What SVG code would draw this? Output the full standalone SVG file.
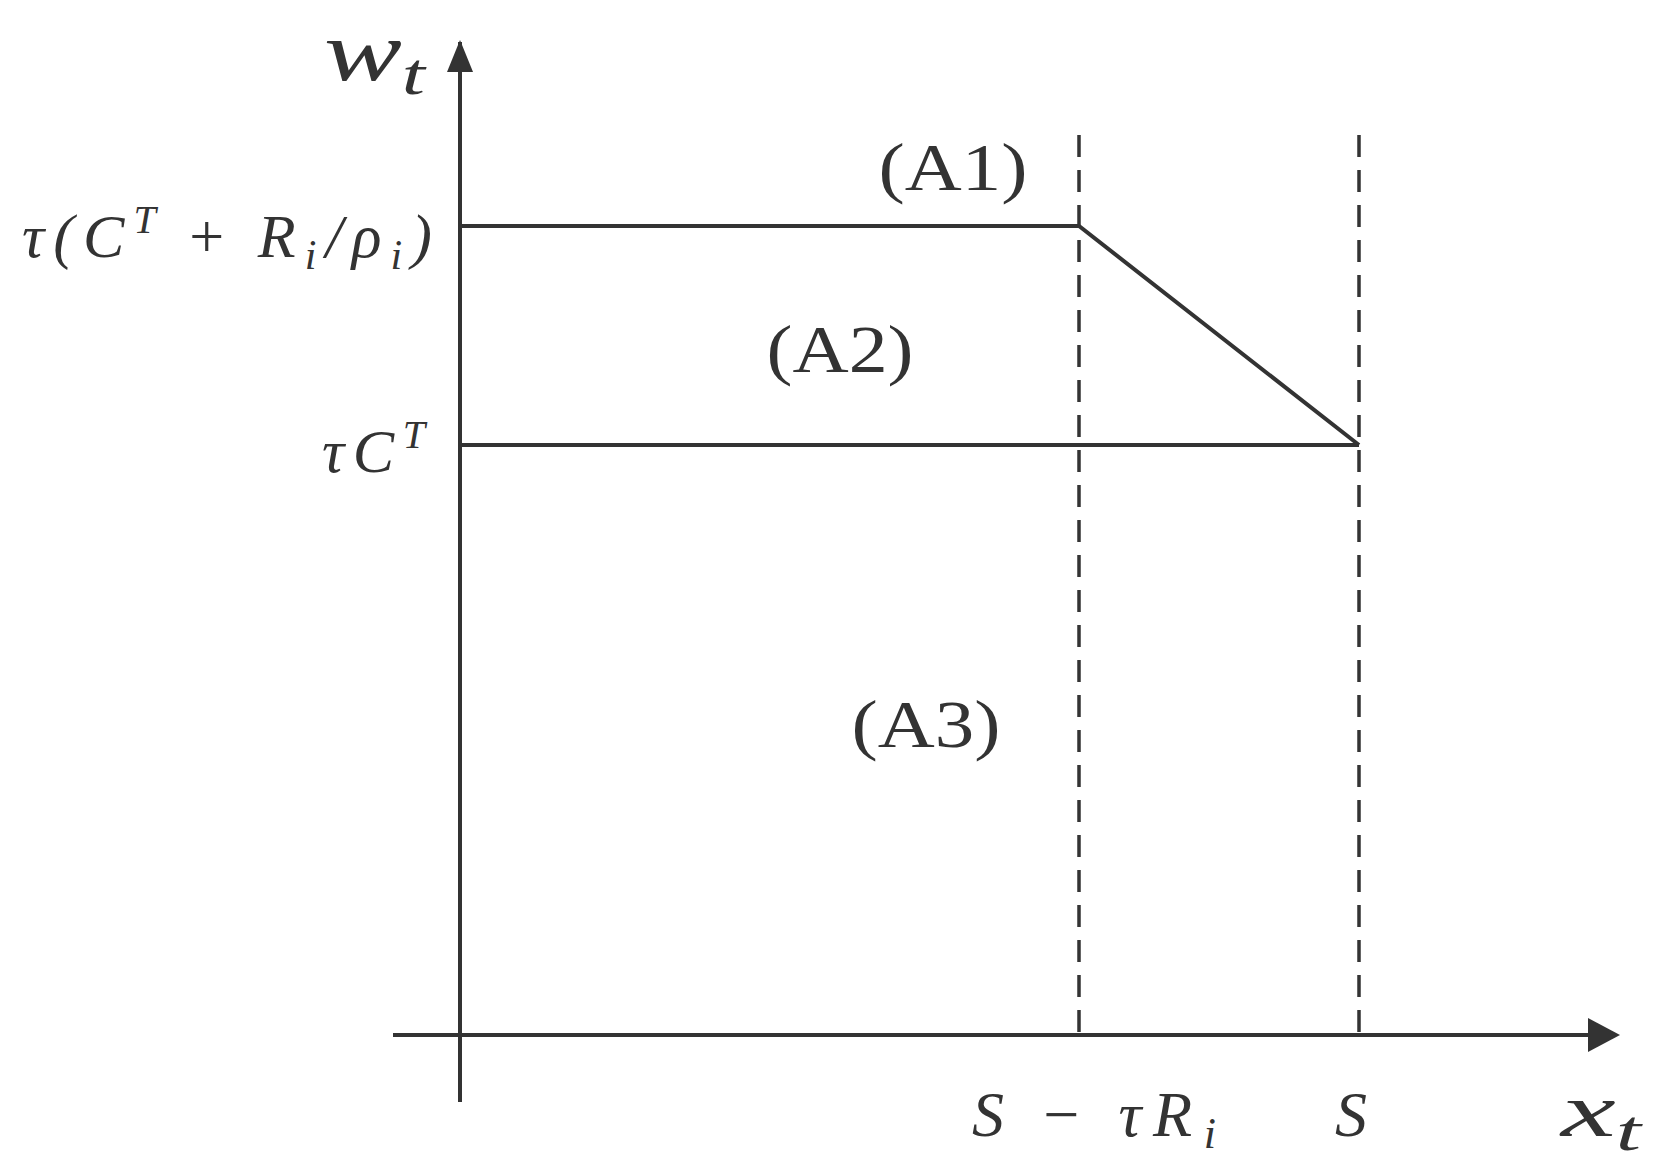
<svg xmlns="http://www.w3.org/2000/svg" width="1657" height="1168" viewBox="0 0 1657 1168">
<style>
.ln{stroke:#333;stroke-width:4;fill:none}
.ds{stroke:#333;stroke-width:3.5;fill:none;stroke-dasharray:22,13}
.m{font-family:"Liberation Serif","DejaVu Serif",serif;font-style:italic;fill:#333}
.r{font-family:"Liberation Serif","DejaVu Serif",serif;fill:#333;font-size:68px}
</style>
<rect width="1657" height="1168" fill="#fff"/>
<g id="connectors">
<line class="ln" x1="460" y1="1102" x2="460" y2="42"/>
<path d="M447,72L460,40L473,72z" fill="#333"/>
<line class="ln" x1="393" y1="1035" x2="1592" y2="1035"/>
<path d="M1588,1018L1620,1035L1588,1052z" fill="#333"/>
<polyline class="ln" points="460,226 1079,226 1359,445"/>
<line class="ln" x1="460" y1="445" x2="1359" y2="445"/>
<line class="ds" x1="1079" y1="135" x2="1079" y2="1035"/>
<line class="ds" x1="1359" y1="135" x2="1359" y2="1035"/>
</g>
<g id="labels">
<text class="m" x="324" y="80" font-size="84" textLength="101" lengthAdjust="spacingAndGlyphs">w<tspan font-size="60" dy="14">t</tspan></text>
<text class="m" x="22" y="257" font-size="62" textLength="410" lengthAdjust="spacing">τ(C<tspan font-size="40" dy="-24">T</tspan><tspan dy="24" font-style="normal"> + </tspan>R<tspan font-size="42" dy="12">i</tspan><tspan dy="-12">/ρ</tspan><tspan font-size="42" dy="12">i</tspan><tspan dy="-12">)</tspan></text>
<text class="m" x="322" y="472" font-size="62" textLength="103" lengthAdjust="spacing">τC<tspan font-size="40" dy="-24">T</tspan></text>
<text class="r" x="953" y="190" text-anchor="middle" textLength="149" lengthAdjust="spacingAndGlyphs">(A1)</text>
<text class="r" x="840" y="372" text-anchor="middle" textLength="147" lengthAdjust="spacingAndGlyphs">(A2)</text>
<text class="r" x="926" y="747" text-anchor="middle" textLength="149" lengthAdjust="spacingAndGlyphs">(A3)</text>
<text class="m" x="972" y="1136" font-size="64" textLength="244" lengthAdjust="spacing">S<tspan font-style="normal"> − </tspan>τR<tspan font-size="44" dy="12">i</tspan></text>
<text class="m" x="1351" y="1136" font-size="64" text-anchor="middle">S</text>
<text class="m" x="1561" y="1136" font-size="76" textLength="80" lengthAdjust="spacingAndGlyphs">x<tspan font-size="56" dy="14">t</tspan></text>
</g>
</svg>
